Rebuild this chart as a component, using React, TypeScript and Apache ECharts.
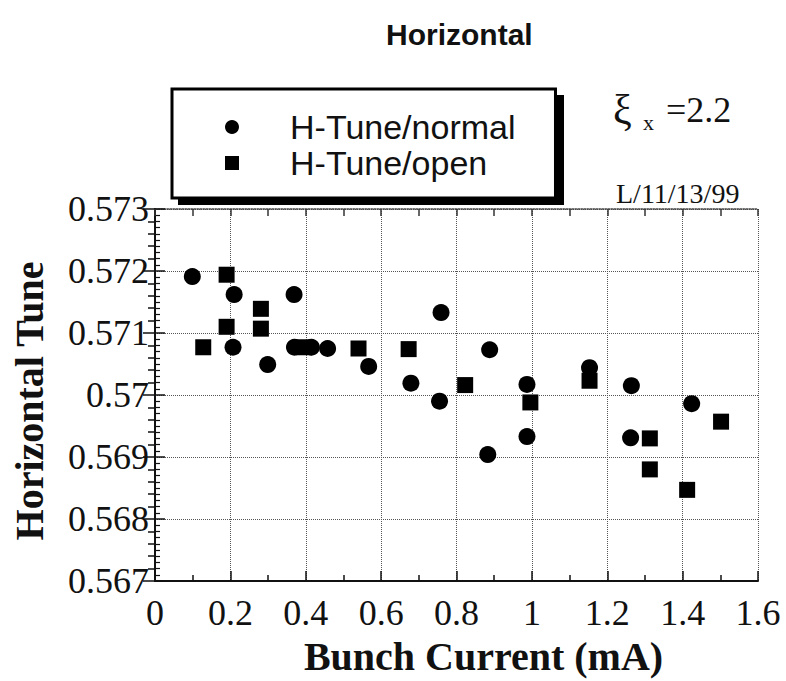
import React, { useEffect, useRef } from "react";
import * as echarts from "echarts";

const titleText = "Horizontal";
const xAxisName = "Bunch Current (mA)";
const yAxisName = "Horizontal Tune";
const seriesNames = ["H-Tune/normal", "H-Tune/open"];

const xMin = 0;
const xMax = 1.6;
const xInterval = 0.2;
const yMin = 0.567;
const yMax = 0.573;
const yInterval = 0.001;

// H-Tune/normal (circles)
const normalX = [0.099, 0.21, 0.369, 0.759, 0.207, 0.299, 0.37, 0.415, 0.458, 0.567, 0.679, 0.755, 0.888, 0.987, 0.987, 0.883, 1.153, 1.264, 1.262, 1.424];
const normalY = [0.57191, 0.57162, 0.57162, 0.57133, 0.57077, 0.57049, 0.57077, 0.57077, 0.57075, 0.57046, 0.57019, 0.5699, 0.57073, 0.57017, 0.56933, 0.56904, 0.57044, 0.57015, 0.56931, 0.56986];

// H-Tune/open (squares)
const openX = [0.19, 0.281, 0.19, 0.281, 0.128, 0.395, 0.54, 0.673, 0.823, 0.996, 1.153, 1.313, 1.313, 1.412, 1.502];
const openY = [0.57194, 0.57139, 0.5711, 0.57107, 0.57077, 0.57077, 0.57075, 0.57074, 0.57016, 0.56988, 0.57023, 0.5693, 0.5688, 0.56847, 0.56957];

const chromText = "ξ";
const chromSub = "x";
const chromValue = "=2.2";
const runLabel = "L/11/13/99";

const SERIF = '"Liberation Serif", "DejaVu Serif", serif';
const SANS = '"Liberation Sans", Arial, sans-serif';

export default function App() {
  const ref = useRef<HTMLDivElement>(null);

  useEffect(() => {
    document.body.style.margin = "0";
    if (!ref.current) return;
    const chart = echarts.init(ref.current, null, { renderer: "svg" });

    const normalData = normalX.map((x, i) => [x, normalY[i]]);
    const openData = openX.map((x, i) => [x, openY[i]]);

    const option: any = {
      animation: false,
      backgroundColor: "#ffffff",
      title: {
        text: titleText,
        left: 386,
        top: 19,
        padding: 0,
        textStyle: { fontFamily: SANS, fontSize: 30, fontWeight: "bold", color: "#111" },
      },
      legend: {
        orient: "vertical",
        left: 172,
        top: 89,
        z: 5,
        data: [
          { name: seriesNames[0], icon: "circle" },
          { name: seriesNames[1], icon: "rect" },
        ],
        itemWidth: 14,
        itemHeight: 14,
        itemGap: 2,
        padding: [21, 40, 18, 53],
        backgroundColor: "#ffffff",
        borderColor: "#000",
        borderWidth: 3,
        borderRadius: 0,
        textStyle: { fontFamily: SANS, fontSize: 34, color: "#111", padding: [0, 0, 0, 46] },
      },
      graphic: [
        { type: "rect", z: 1, shape: { x: 178, y: 95, width: 386, height: 110 }, style: { fill: "#000" } },
        { type: "text", z: 10, x: 613, y: 110, style: { text: chromText, font: `42px ${SERIF}`, fill: "#111", align: "left", verticalAlign: "middle" } },
        { type: "text", z: 10, x: 643, y: 122, style: { text: chromSub, font: `22px ${SERIF}`, fill: "#111", align: "left", verticalAlign: "middle" } },
        { type: "text", z: 10, x: 666, y: 110, style: { text: chromValue, font: `36px ${SERIF}`, fill: "#111", align: "left", verticalAlign: "middle" } },
        { type: "text", z: 10, x: 616, y: 193, style: { text: runLabel, font: `28px ${SERIF}`, fill: "#111", align: "left", verticalAlign: "middle" } },
      ],
      grid: { left: 155, top: 209, right: 28, bottom: 94, containLabel: false },
      xAxis: [
        {
          type: "value",
          position: "bottom",
          min: xMin,
          max: xMax,
          interval: xInterval,
          name: xAxisName,
          nameLocation: "middle",
          nameGap: 55,
          nameTextStyle: { fontFamily: SERIF, fontSize: 40, fontWeight: "bold", color: "#111", padding: [0, 0, 0, 54] },
          axisLine: { show: true, lineStyle: { color: "#111", width: 2 } },
          axisTick: { show: true, inside: true, length: 10, lineStyle: { color: "#111", width: 1.5 } },
          minorTick: { show: true, splitNumber: 2, length: 6, lineStyle: { color: "#111", width: 1.5 } },
          axisLabel: { show: true, margin: 14, fontFamily: SERIF, fontSize: 36, color: "#111" },
          splitLine: { show: true, lineStyle: { color: "#555", width: 1, type: "dotted" } },
        },
        {
          type: "value",
          position: "top",
          min: xMin,
          max: xMax,
          interval: 0.1,
          axisLine: { show: true, lineStyle: { color: "#444", width: 1.5, type: "dotted" } },
          axisTick: { show: true, inside: true, length: 7, lineStyle: { color: "#333", width: 1.5 } },
          axisLabel: { show: false },
          splitLine: { show: false },
        },
      ],
      yAxis: [
        {
          type: "value",
          position: "left",
          min: yMin,
          max: yMax,
          interval: yInterval,
          name: yAxisName,
          nameLocation: "middle",
          nameRotate: 90,
          nameGap: 106,
          nameTextStyle: { fontFamily: SERIF, fontSize: 40, fontWeight: "bold", color: "#111", padding: [0, 12, 0, 0] },
          axisLine: { show: true, lineStyle: { color: "#111", width: 2 } },
          axisTick: { show: true, inside: true, length: 10, lineStyle: { color: "#111", width: 1.5 } },
          minorTick: { show: true, splitNumber: 10, length: 5, lineStyle: { color: "#111", width: 1.2 } },
          axisLabel: { show: true, margin: 6, fontFamily: SERIF, fontSize: 36, color: "#111" },
          splitLine: { show: true, lineStyle: { color: "#555", width: 1, type: "dotted" } },
        },
        {
          type: "value",
          position: "right",
          min: yMin,
          max: yMax,
          interval: yInterval,
          axisLine: { show: true, lineStyle: { color: "#111", width: 2 } },
          axisTick: { show: true, inside: true, length: 12, lineStyle: { color: "#111", width: 1.5 } },
          minorTick: { show: true, splitNumber: 5, length: 7, lineStyle: { color: "#111", width: 1.5 } },
          axisLabel: { show: false },
          splitLine: { show: false },
        },
      ],
      series: [
        {
          name: seriesNames[0],
          type: "scatter",
          xAxisIndex: 0,
          yAxisIndex: 0,
          symbol: "circle",
          symbolSize: 17,
          itemStyle: { color: "#000", opacity: 1 },
          data: normalData,
          z: 3,
        },
        {
          name: seriesNames[1],
          type: "scatter",
          xAxisIndex: 0,
          yAxisIndex: 0,
          symbol: "rect",
          symbolSize: 16,
          itemStyle: { color: "#000", opacity: 1 },
          data: openData,
          z: 3,
        },
      ],
    };

    chart.setOption(option);
    return () => chart.dispose();
  }, []);

  return <div ref={ref} style={{ width: 786, height: 681 }} />;
}
